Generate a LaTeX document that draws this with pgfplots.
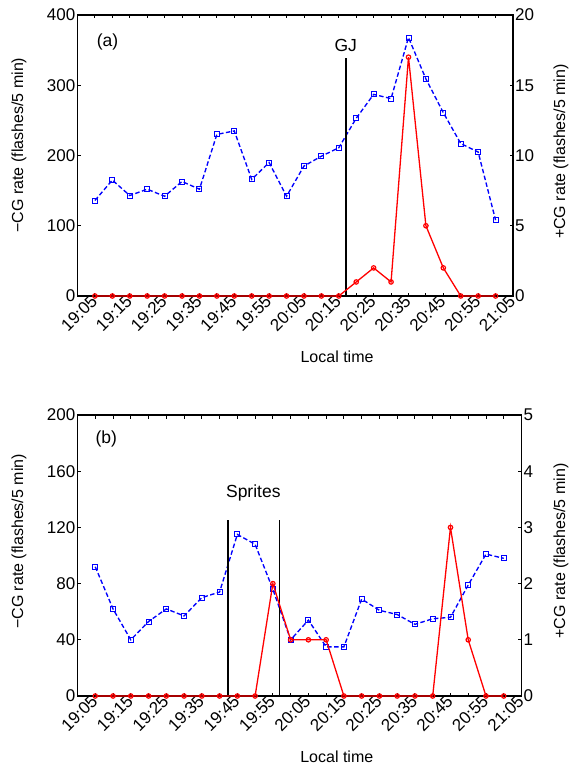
\documentclass[border=0pt]{standalone}
\usepackage{fontspec}
\setmainfont{Liberation Sans}
\usepackage{pgfplots}
\usepackage{pgfplotstable}
\pgfplotsset{compat=1.18}

% minutes after 19:00, -CG, +CG
\pgfplotstableread{
t neg pos
5 136 0
10 165 0
15 143 0
20 152 0
25 142 0
30 163 0
35 152 0
40 230 0
45 235 0
50 166 0
55 190 0
60 142 0
65 185 0
70 199 0
75 211 0
80 253 1
85 287 2
90 281 1
95 368 17
100 309 5
105 261 2
110 217 0
115 205 0
120 108 0
}\dataA
\pgfplotstableread{
t neg pos
5 92 0
10 62 0
15 40 0
20 53 0
25 62 0
30 57 0
35 70 0
40 74 0
45 115 0
50 108 0
55 76 2
60 40 1
65 54 1
70 35 1
75 35 0
80 69 0
85 61 0
90 58 0
95 51 0
100 55 0
105 56 3
110 79 1
115 101 0
120 98 0
}\dataB

\newcommand{\fs}{\fontsize{16}{19}\selectfont}
\newcommand{\fst}{\fontsize{17}{20}\selectfont}
\pgfplotsset{
  base/.style={
    scale only axis,
    xmin=0, xmax=125,
    ymin=0,
    tick align=inside,
    major tick length=3.5pt, minor tick length=3.5pt,
    every tick/.style={black, line width=0.9pt},
    axis line style={black, line width=1.2pt},
    tick label style={font=\fst},
    label style={font=\fs},
    /pgf/number format/assume math mode=true,
    clip=false,
  },
  leftax/.style={
    base,
    xtick={5,15,...,125},
    minor xtick={10,20,...,120},
    xtick pos=both,
    xticklabels={19:05,19:15,19:25,19:35,19:45,19:55,20:05,20:15,20:25,20:35,20:45,20:55,21:05},
    xticklabel style={rotate=45, anchor=east, inner sep=2pt, yshift=-1pt},
    ytick pos=left,
    yticklabel style={inner sep=2pt},
    xlabel={Local time},
    xlabel style={at={(axis description cs:0.596,-0.217)}, anchor=center},
  },
  rightax/.style={
    base,
    axis x line=none,
    axis y line*=right,
    tick align=inside,
    yticklabel style={inner sep=2pt},
  },
  negline/.style={blue, line width=1.35pt, dash pattern=on 4.5pt off 2.5pt, mark=square, mark size=2.5pt, mark options={solid, line width=0.9pt}},
  posline/.style={red, line width=1.3pt, mark=o, mark size=2.2pt, mark options={solid, line width=1.2pt}},
}

\begin{document}
\begin{tikzpicture}
\path[use as bounding box] (0pt,0pt) rectangle (571pt,-773pt);

% ---------- panel (a) ----------
\begin{axis}[leftax, at={(77.5pt,-296pt)}, anchor=south west, width=435.5pt, height=281pt,
  ymax=400, ytick={0,100,...,400},
  ylabel={−CG rate (flashes/5 min)},
  ylabel style={at={(axis description cs:-0.109,0.537)}, anchor=south}]
\addplot[negline] table[x=t, y=neg] {\dataA};
\addplot[black, line width=1.7pt] coordinates {(77,0) (77,339)};
\node[font=\fontsize{17.5}{20}\selectfont] at (axis cs:8.6,361) {(a)};
\node[font=\fontsize{17.5}{20}\selectfont] at (axis cs:77,357) {GJ};
\end{axis}
\begin{axis}[rightax, at={(77.5pt,-296pt)}, anchor=south west, width=435.5pt, height=281pt,
  ymax=20, ytick={0,5,...,20},
  ylabel={+CG rate (flashes/5 min)},
  ylabel style={at={(axis description cs:1.085,0.514)}, anchor=north}]
\addplot[posline] table[x=t, y=pos] {\dataA};
\end{axis}

% ---------- panel (b) ----------
\begin{axis}[leftax, at={(77.5pt,-696pt)}, anchor=south west, width=444pt, height=281pt,
  ymax=200, ytick={0,40,...,200},
  xlabel style={at={(axis description cs:0.584,-0.217)}, anchor=center},
  ylabel={−CG rate (flashes/5 min)},
  ylabel style={at={(axis description cs:-0.107,0.55)}, anchor=south}]
\addplot[negline] table[x=t, y=neg] {\dataB};
\addplot[black, line width=1.7pt] coordinates {(42.3,0) (42.3,125)};
\addplot[black, line width=1.7pt] coordinates {(56.9,0) (56.9,125)};
\node[font=\fontsize{17.5}{20}\selectfont] at (axis cs:8.1,183) {(b)};
\node[font=\fontsize{17.5}{20}\selectfont] at (axis cs:49.5,144.5) {Sprites};
\end{axis}
\begin{axis}[rightax, at={(77.5pt,-696pt)}, anchor=south west, width=444pt, height=281pt,
  ymax=5, ytick={0,1,...,5},
  ylabel={+CG rate (flashes/5 min)},
  ylabel style={at={(axis description cs:1.064,0.516)}, anchor=north}]
\addplot[posline] table[x=t, y=pos] {\dataB};
\end{axis}
\end{tikzpicture}
\end{document}
